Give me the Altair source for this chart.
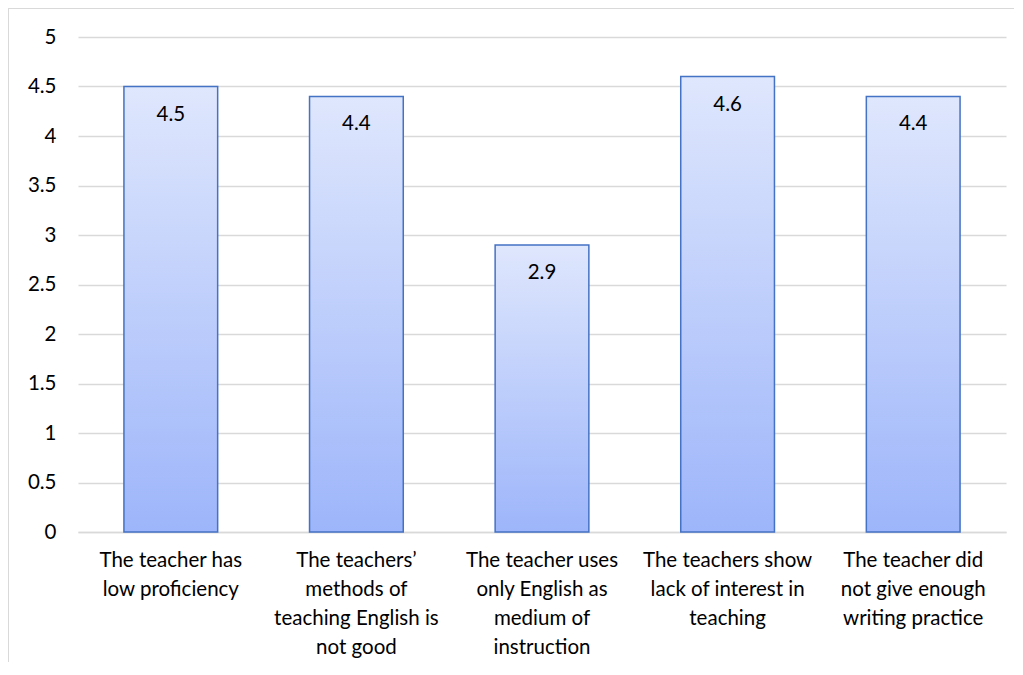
import altair as alt
import pandas as pd

categories = [
    "The teacher has|low proficiency",
    "The teachers’|methods of|teaching English is|not good",
    "The teacher uses|only English as|medium of|instruction",
    "The teachers show|lack of interest in|teaching",
    "The teacher did|not give enough|writing practice",
]
values = [4.5, 4.4, 2.9, 4.6, 4.4]
y_ticks = [0, 0.5, 1, 1.5, 2, 2.5, 3, 3.5, 4, 4.5, 5]

df = pd.DataFrame({"cat": categories, "val": values})

FONT = "Lato"
FS = 20.5

x_enc = alt.X(
    "cat:N",
    sort=categories,
    title=None,
    scale=alt.Scale(paddingInner=0.495, paddingOuter=0.2475),
    axis=alt.Axis(
        labelExpr="split(datum.label, '|')",
        labelAngle=0,
        labelFontSize=FS,
        labelFont=FONT,
        labelFontWeight="normal",
        labelColor="#000000",
        labelLineHeight=29,
        labelPadding=18,
        labelBaseline="top",
        ticks=False,
        domain=True,
        domainColor="#d9d9d9",
        domainWidth=1.5,
        labelLimit=300,
    ),
)

bars = alt.Chart(df).mark_bar(
    stroke="#4472c4",
    strokeWidth=1.5,
    color=alt.Gradient(
        gradient="linear",
        stops=[
            alt.GradientStop(color="#dfe7fd", offset=0),
            alt.GradientStop(color="#9db5fa", offset=1),
        ],
        x1=0, x2=0, y1=0, y2=1,
    ),
).encode(
    x=x_enc,
    y=alt.Y(
        "val:Q",
        title=None,
        scale=alt.Scale(domain=[0, 5], nice=False),
        axis=alt.Axis(
            values=y_ticks,
            labelExpr="datum.value",
            labelFontSize=FS,
            labelFont=FONT,
            labelColor="#000000",
            labelPadding=22,
            ticks=False,
            domain=False,
            grid=True,
            gridColor="#d9d9d9",
            gridWidth=1.5,
        ),
    ),
)

labels = alt.Chart(df).mark_text(
    baseline="middle",
    dy=28,
    fontSize=FS,
    font=FONT,
    color="#000000",
).encode(
    x=alt.X("cat:N", sort=categories),
    y=alt.Y("val:Q"),
    text=alt.Text("val:Q", format=".1f"),
)

frame_top = alt.Chart(df).mark_rule(color="#d9d9d9", strokeWidth=1.5).encode(
    x=alt.value(-70), x2=alt.value(936), y=alt.value(-29)
)
frame_left = alt.Chart(df).mark_rule(color="#d9d9d9", strokeWidth=1.5).encode(
    x=alt.value(-70), y=alt.value(-29), y2=alt.value(630)
)

chart = alt.layer(bars, labels, frame_top, frame_left).properties(
    width=928,
    height=495,
    autosize=alt.AutoSizeParams(type="none"),
    padding={"left": 70, "top": 29, "right": 8, "bottom": 130},
).configure_view(stroke=None)

chart.save("out.html", embed_options={"renderer": "svg", "actions": False})
